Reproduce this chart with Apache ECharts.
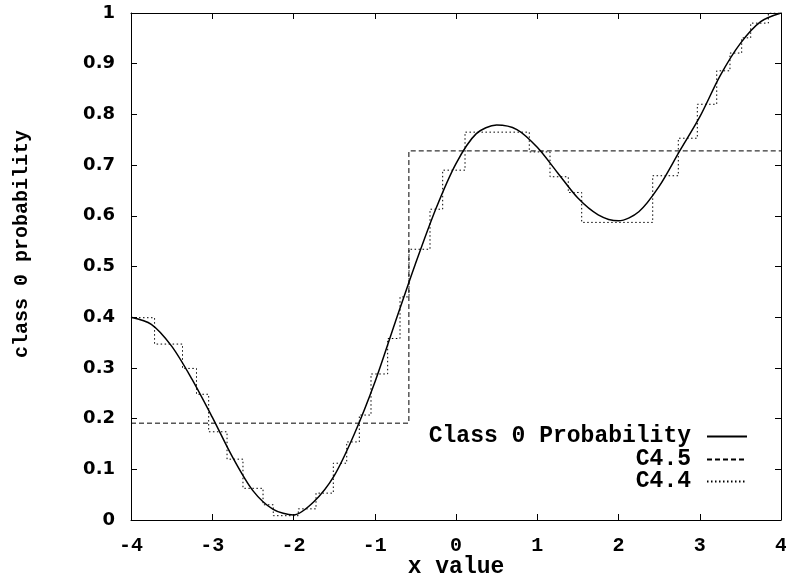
<!DOCTYPE html>
<html><head><meta charset="utf-8">
<script src="https://cdn.jsdelivr.net/npm/echarts@6/dist/echarts.min.js"></script>
<style>html,body{margin:0;padding:0;background:#fff}#c{width:786px;height:577px}</style>
</head><body><div id="c"></div>
<script>
// Smooth "Class 0 Probability" curve
const curveX = [-4, -3.75, -3.5, -3.25, -3, -2.75, -2.5, -2.25, -2, -1.75, -1.5, -1.25, -1, -0.75, -0.5, -0.25, 0, 0.25, 0.5, 0.75, 1, 1.25, 1.5, 1.75, 2, 2.25, 2.5, 2.75, 3, 3.25, 3.5, 3.75, 4];
const curveY = [0.400, 0.386, 0.343, 0.278, 0.203, 0.124, 0.058, 0.021, 0.010, 0.036, 0.087, 0.170, 0.271, 0.389, 0.505, 0.613, 0.703, 0.762, 0.779, 0.770, 0.735, 0.685, 0.635, 0.602, 0.590, 0.608, 0.658, 0.727, 0.795, 0.876, 0.940, 0.983, 1.000];

// C4.5 step function: step start x and level
const c45X = [-4, -0.58, 4];
const c45Y = [0.191, 0.728, 0.728];

// C4.4 step function: step start x and level
const c44X = [-4, -3.71, -3.366, -3.194, -3.044, -2.818, -2.622, -2.375, -2.249, -1.941, -1.723, -1.51, -1.345, -1.19, -1.046, -0.841, -0.689, -0.578, -0.32, -0.164, 0.111, 0.902, 1.157, 1.382, 1.547, 2.421, 2.736, 2.97, 3.209, 3.372, 3.516, 3.627, 3.844, 4];
const c44Y = [0.399, 0.347, 0.299, 0.248, 0.174, 0.120, 0.0625, 0.030, 0.0085, 0.022, 0.053, 0.112, 0.154, 0.207, 0.288, 0.358, 0.440, 0.534, 0.613, 0.690, 0.765, 0.726, 0.677, 0.646, 0.587, 0.679, 0.753, 0.820, 0.886, 0.921, 0.951, 0.980, 1.000, 1.000];

const seriesNames = ['Class 0 Probability', 'C4.5', 'C4.4'];
const xTicks = {min: -4, max: 4, interval: 1};
const yTicks = {min: 0, max: 1, interval: 0.1};

const zip = (xs, ys) => xs.map((x, i) => [x, ys[i]]);

const monoBold = {fontFamily: '"Liberation Mono", "DejaVu Sans Mono", monospace', fontWeight: 'bold', color: '#000'};
const axisLineStyle = {show: true, onZero: false, lineStyle: {color: '#000', width: 1}};
const tickStyle = {show: true, inside: true, length: 6, lineStyle: {color: '#000', width: 1}};

function legendFor(name, top) {
  return {
    data: [name], right: 38, top: top, orient: 'vertical', align: 'right',
    padding: 0, itemWidth: 40, itemHeight: 14, selectedMode: false,
    itemStyle: {opacity: 0, color: 'transparent', borderWidth: 0},
    textStyle: Object.assign({fontSize: 23, lineHeight: 22, padding: [0, 11, 0, 0]}, monoBold)
  };
}

const chart = echarts.init(document.getElementById('c'), null, {renderer: 'canvas'});
chart.setOption({
  animation: false,
  backgroundColor: '#fff',
  grid: {left: 131, right: 5, top: 13, bottom: 57, containLabel: false, outerBoundsMode: 'none'},
  legend: [legendFor(seriesNames[0], 425), legendFor(seriesNames[1], 448), legendFor(seriesNames[2], 470)],
  xAxis: [{
    type: 'value', min: xTicks.min, max: xTicks.max, interval: xTicks.interval, position: 'bottom',
    axisLine: axisLineStyle, axisTick: tickStyle, splitLine: {show: false},
    axisLabel: Object.assign({fontSize: 20, margin: 16}, monoBold),
    name: 'x value', nameLocation: 'middle', nameGap: 36, nameMoveOverlap: false,
    nameTextStyle: Object.assign({fontSize: 23}, monoBold)
  }, {
    type: 'value', min: xTicks.min, max: xTicks.max, interval: xTicks.interval, position: 'top',
    axisLine: axisLineStyle, axisTick: tickStyle, splitLine: {show: false}, axisLabel: {show: false}
  }],
  yAxis: [{
    type: 'value', min: yTicks.min, max: yTicks.max, interval: yTicks.interval, position: 'left',
    axisLine: axisLineStyle, axisTick: tickStyle, splitLine: {show: false},
    axisLabel: {fontSize: 18, margin: 16, fontFamily: '"DejaVu Sans", sans-serif', fontWeight: 'bold', color: '#000'},
    name: 'class 0 probability', nameLocation: 'middle', nameRotate: 90, nameGap: 99, nameMoveOverlap: false,
    nameTextStyle: Object.assign({fontSize: 20, padding: [0, 0, 0, 45]}, monoBold)
  }, {
    type: 'value', min: yTicks.min, max: yTicks.max, interval: yTicks.interval, position: 'right',
    axisLine: axisLineStyle, axisTick: tickStyle, splitLine: {show: false}, axisLabel: {show: false}
  }],
  series: [{
    name: seriesNames[1], type: 'line', step: 'end', symbol: 'none', data: zip(c45X, c45Y),
    lineStyle: {color: '#000', width: 1, type: [5, 3]}, itemStyle: {color: '#000'}, z: 2
  }, {
    name: seriesNames[2], type: 'line', step: 'end', symbol: 'none', data: zip(c44X, c44Y),
    lineStyle: {color: '#000', width: 1, type: [1.5, 2.5]}, itemStyle: {color: '#000'}, z: 2
  }, {
    name: seriesNames[0], type: 'line', smooth: 0.3, symbol: 'none', data: zip(curveX, curveY),
    lineStyle: {color: '#000', width: 1.5}, itemStyle: {color: '#000'}, z: 3
  }]
});
</script></body></html>
